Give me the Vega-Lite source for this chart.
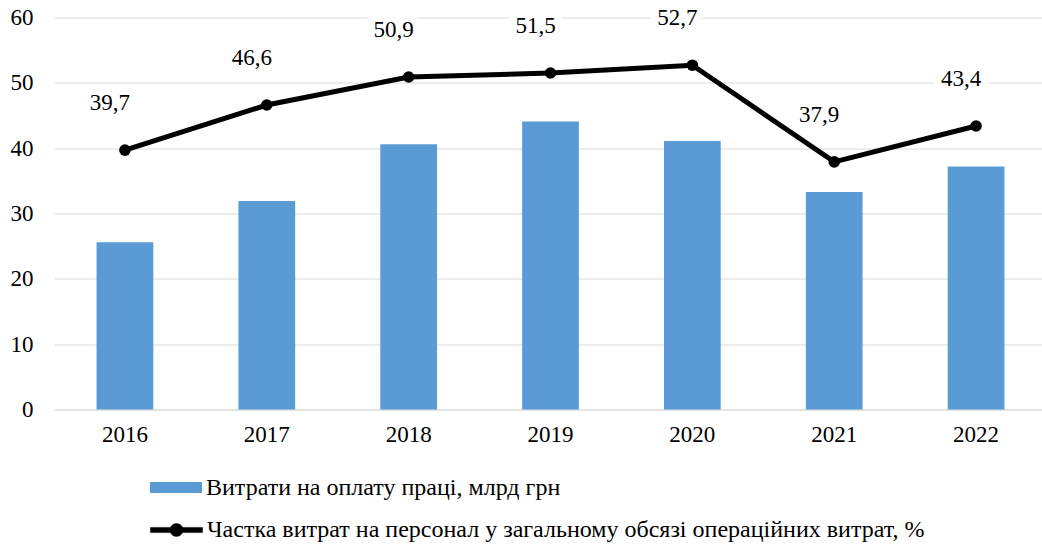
{
  "$schema": "https://vega.github.io/schema/vega-lite/v6.json",
  "width": 993,
  "height": 392,
  "autosize": "none",
  "padding": {"left": 54, "top": 17.5, "right": 0, "bottom": 136.5},
  "background": "white",
  "config": {
    "font": "Liberation Serif",
    "axis": {"labelFont": "Liberation Serif"},
    "legend": {"labelFont": "Liberation Serif"},
    "text": {"font": "Liberation Serif"},
    "view": {"stroke": null},
    "locale": {"number": {"decimal": ",", "thousands": " ", "grouping": [3], "currency": ["", ""]}}
  },
  "data": {
    "values": [
      {"year": "2016", "wages": 25.6, "share": 39.7},
      {"year": "2017", "wages": 31.9, "share": 46.6},
      {"year": "2018", "wages": 40.6, "share": 50.9},
      {"year": "2019", "wages": 44.1, "share": 51.5},
      {"year": "2020", "wages": 41.1, "share": 52.7},
      {"year": "2021", "wages": 33.3, "share": 37.9},
      {"year": "2022", "wages": 37.2, "share": 43.4}
    ]
  },
  "encoding": {
    "x": {
      "field": "year",
      "type": "ordinal",
      "scale": {"paddingInner": 0.6, "paddingOuter": 0.3},
      "axis": {
        "title": null,
        "labelAngle": 0,
        "labelFont": "Liberation Serif",
        "labelFontSize": 23,
        "labelColor": "#000000",
        "labelPadding": 14,
        "domain": true,
        "domainColor": "#D9D9D9",
        "domainWidth": 1.2,
        "ticks": false,
        "grid": false
      }
    }
  },
  "layer": [
    {
      "mark": {"type": "bar"},
      "encoding": {
        "y": {
          "field": "wages",
          "type": "quantitative",
          "scale": {"domain": [0, 60]},
          "axis": {
            "title": null,
            "values": [0, 10, 20, 30, 40, 50, 60],
            "labelFont": "Liberation Serif",
            "labelFontSize": 23,
            "labelColor": "#000000",
            "labelPadding": 21,
            "domain": false,
            "ticks": false,
            "grid": true,
            "gridColor": "#D9D9D9",
            "gridWidth": 1.2
          }
        },
        "fill": {
          "datum": "Витрати на оплату праці, млрд грн",
          "scale": {"range": ["#5B9BD5"]},
          "legend": {
            "title": null,
            "orient": "none",
            "legendX": 96,
            "legendY": 444,
            "symbolType": "M-1,-0.21H1V0.21H-1Z",
            "symbolSize": 2704,
            "symbolStrokeWidth": 0,
            "labelFont": "Liberation Serif",
            "labelFontSize": 24,
            "labelColor": "#000000",
            "labelOffset": 4,
            "labelLimit": 0,
            "padding": 0
          }
        }
      }
    },
    {
      "mark": {"type": "text", "dx": -15, "dy": -47, "fontSize": 23, "font": "Liberation Serif", "color": "#FFFFFF", "stroke": "#FFFFFF", "strokeWidth": 16, "strokeJoin": "round"},
      "encoding": {
        "y": {"field": "share", "type": "quantitative"},
        "text": {"field": "share", "type": "quantitative", "format": ".1f"}
      }
    },
    {
      "mark": {"type": "line", "strokeWidth": 5},
      "encoding": {
        "y": {"field": "share", "type": "quantitative"},
        "stroke": {
          "datum": "Частка витрат на персонал у загальному обсязі операційних витрат, %",
          "scale": {"range": ["#000000"]},
          "legend": {
            "title": null,
            "orient": "none",
            "legendX": 96,
            "legendY": 486,
            "symbolType": "M-1,-0.1H1V0.1H-1Z M-0.25,0A0.25,0.25 0 1,1 0.25,0A0.25,0.25 0 1,1 -0.25,0Z",
            "symbolSize": 2704,
            "symbolStrokeWidth": 0.5,
            "symbolFillColor": "#000000",
            "labelFont": "Liberation Serif",
            "labelFontSize": 24,
            "labelColor": "#000000",
            "labelOffset": 4,
            "labelLimit": 0,
            "padding": 0,
            "encode": {"symbols": {"update": {"fill": {"value": "#000000"}}}}
          }
        }
      }
    },
    {
      "mark": {"type": "point", "filled": true, "size": 133, "color": "#000000", "opacity": 1},
      "encoding": {
        "y": {"field": "share", "type": "quantitative"}
      }
    },
    {
      "mark": {"type": "text", "dx": -15, "dy": -47, "fontSize": 23, "font": "Liberation Serif", "color": "#000000"},
      "encoding": {
        "y": {"field": "share", "type": "quantitative"},
        "text": {"field": "share", "type": "quantitative", "format": ".1f"}
      }
    }
  ]
}
